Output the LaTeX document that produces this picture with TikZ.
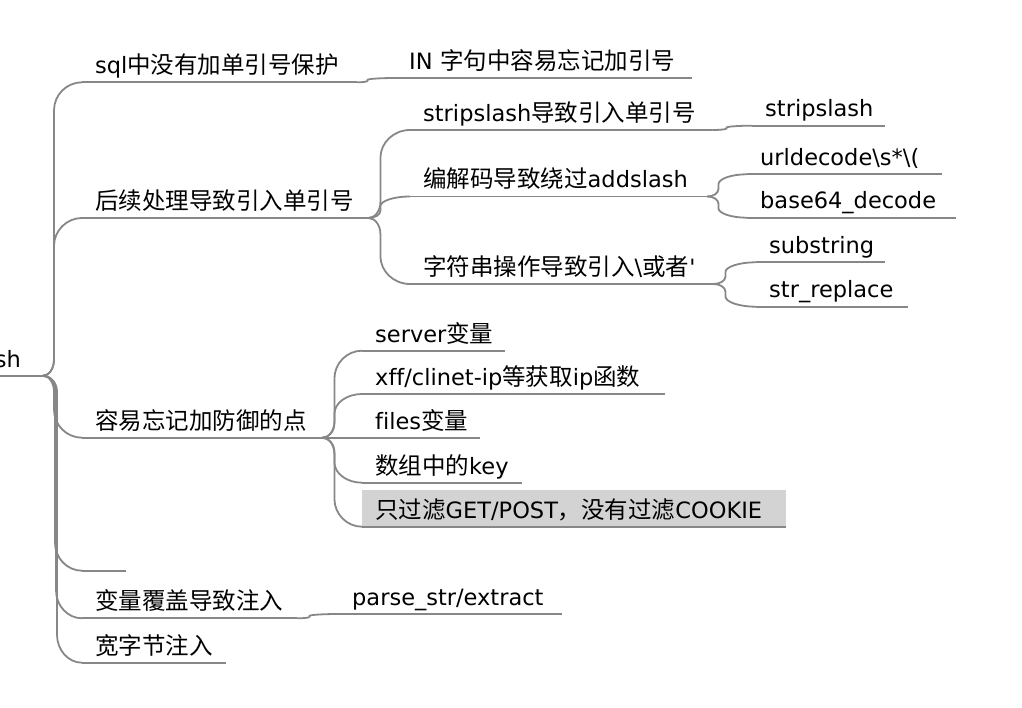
\documentclass[tikz,border=0pt]{standalone}
\usepackage{fontspec}
\setmainfont{DejaVu Sans}[Ligatures=NoCommon]
\newfontfamily\cjkf{Noto Sans CJK SC}[Scale=1.0444]
\newcommand\zh[1]{{\cjkf #1}}
\usetikzlibrary{calc}
\definecolor{linegray}{RGB}{135,135,135}
\definecolor{boxgray}{RGB}{211,211,211}
\tikzset{
  topic/.style={anchor=south west, inner xsep=13pt, inner ysep=4.5pt,
    text height=23.5pt, text depth=4pt, align=left,
    font=\fontsize{22.5}{27}\selectfont, text=black},
  link/.style={draw=linegray, line width=1.8pt, line cap=round},
  uline/.style={draw=linegray, line width=1.8pt}
}
\newcommand\topicline[1]{\draw[uline] (#1.south west) -- (#1.south east);}
\newcommand\conn[3]{\draw[link] let \p1=(#1.south east), \p2=(#2.south west),
   \n1={(\y1>\y2)?1:-1}, \n2={min(abs(\y1-\y2)/3,16)}, \n3={min(abs(\y1-\y2)/2.2,28)} in
   (\p1) .. controls (\x1+0.55*#3pt,\y1) and (\x1+#3pt,\y1-\n1*0.45*\n2) .. (\x1+#3pt,\y1-\n1*\n2)
   -- (\x1+#3pt,\y2+\n1*\n3) .. controls (\x1+#3pt,\y2+\n1*0.45*\n3) and ({0.45*\x2+0.55*(\x1+#3pt)},\y2) .. (\p2);}
\begin{document}
\begin{tikzpicture}[x=1pt,y=-1pt]
\useasboundingbox (0,0) rectangle (1022,708);
% root
\node[topic, anchor=south east, text width=30pt, align=right, inner xsep=22pt] (root) at (43,375.7) {sh};
% level 1
\node[topic, text width=249pt] (n1) at (82,82.3) {sql\zh{中没有加单引号保护}};
\node[topic, text width=260pt] (n2) at (82,218) {\zh{后续处理导致引入单引号}};
\node[topic, text width=214pt] (n3) at (82,437.7) {\zh{容易忘记加防御的点}};
\node[topic, text width=18pt] (n4) at (82,570.7) {};
\node[topic, text width=189pt] (n5) at (82,618.3) {\zh{变量覆盖导致注入}};
\node[topic, text width=118pt] (n6) at (82,662.7) {\zh{宽字节注入}};
% level 2
\node[topic, text width=270pt] (a1) at (396,78) {IN \zh{字句中容易忘记加引号}};
\node[topic, text width=276pt] (b1) at (410,130) {stripslash\zh{导致引入单引号}};
\node[topic, text width=271pt] (b2) at (410,196.5) {\zh{编解码导致绕过}addslash};
\node[topic, text width=277pt] (b3) at (410,284) {\zh{字符串操作导致引入}\textbackslash\zh{或者}\textquotesingle};
\node[topic, text width=117pt] (d1) at (362,350.7) {server\zh{变量}};
\node[topic, text width=277pt] (d2) at (362,394) {xff/clinet-ip\zh{等获取}ip\zh{函数}};
\node[topic, text width=92pt] (d3) at (362,437.7) {files\zh{变量}};
\node[topic, text width=134pt] (d4) at (362,482.7) {\zh{数组中的}key};
\node[topic, text width=398pt, fill=boxgray] (d5) at (362,526.7) {\zh{只过滤}GET/POST\zh{，没有过滤}COOKIE};
\node[topic, text width=197pt] (e1) at (339,614) {parse\_str/extract};
% level 3
\node[topic, text width=107pt] (c1) at (752,125.7) {stripslash};
\node[topic, text width=169pt] (c2) at (747,174.3) {urldecode\textbackslash s*\textbackslash(};
\node[topic, text width=183pt] (c3) at (747,217.7) {base64\_decode};
\node[topic, text width=103pt] (c4) at (756,262.3) {substring};
\node[topic, text width=126pt] (c5) at (756,306.7) {str\_replace};
% underlines
\foreach \k in {root,n1,n2,n3,n4,n5,n6,a1,b1,b2,b3,d1,d2,d3,d4,d5,e1,c1,c2,c3,c4,c5}{\topicline{\k}}
% connectors
\conn{root}{n1}{11}
\conn{root}{n2}{11}
\conn{root}{n3}{11}
\conn{root}{n4}{12}
\conn{root}{n5}{13}
\conn{root}{n6}{14}
\conn{n1}{a1}{10}
\conn{n2}{b1}{12}
\conn{n2}{b2}{12}
\conn{n2}{b3}{12}
\conn{b1}{c1}{14}
\conn{b2}{c2}{11}
\conn{b2}{c3}{11}
\conn{b3}{c4}{12}
\conn{b3}{c5}{12}
\conn{n3}{d1}{12}
\conn{n3}{d2}{12}
\conn{n3}{d3}{12}
\conn{n3}{d4}{12}
\conn{n3}{d5}{12}
\conn{n5}{e1}{12}
\end{tikzpicture}
\end{document}
